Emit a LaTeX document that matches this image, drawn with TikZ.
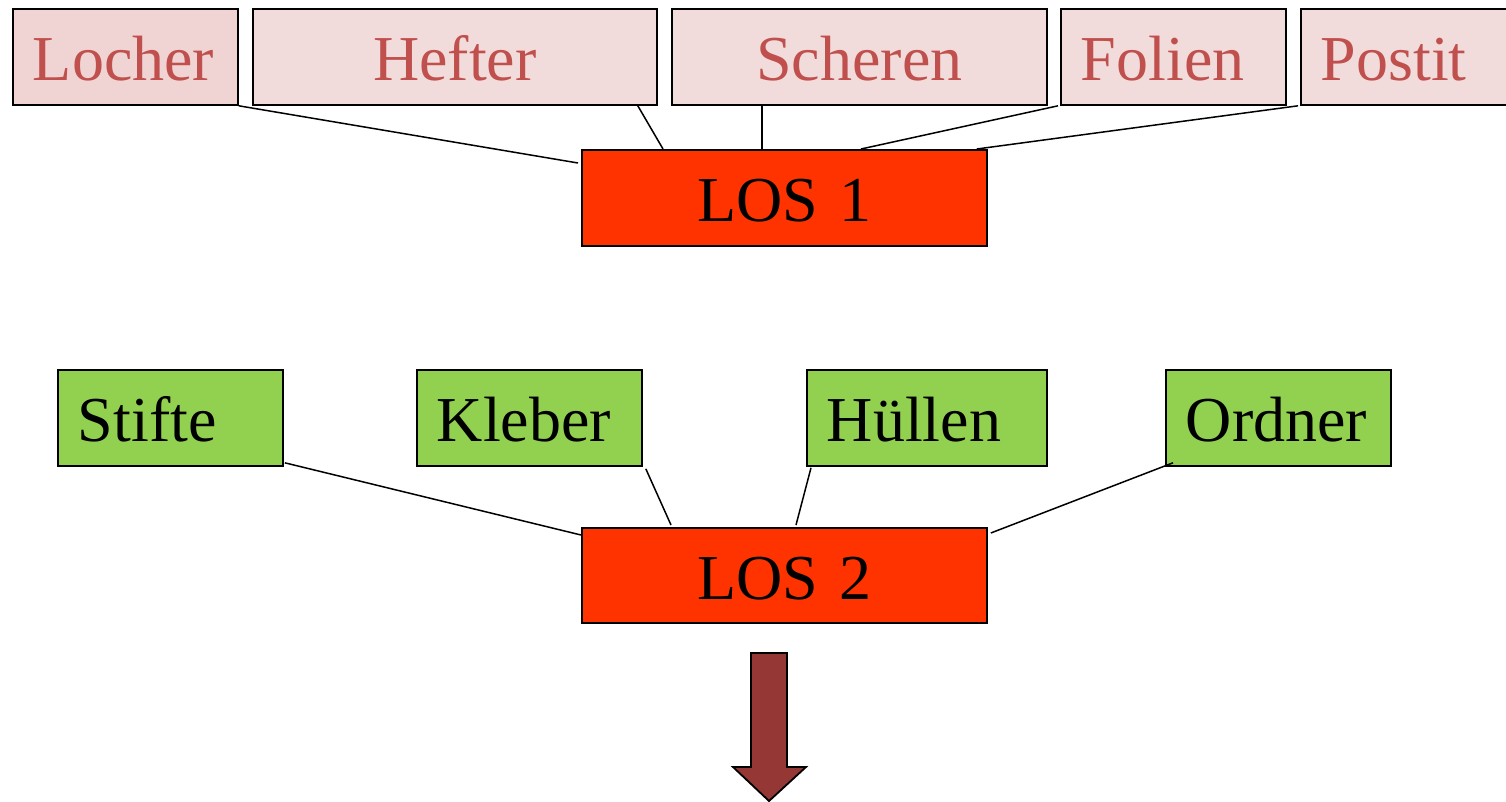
\documentclass[tikz,border=0pt]{standalone}
\usepackage{fontspec}
\setmainfont{Liberation Serif}
\newfontfamily\boxfont{Liberation Serif}
\usetikzlibrary{calc}

\definecolor{itemfill}{HTML}{F2DCDB}
\definecolor{itemfillb}{HTML}{F0D3D3}
\definecolor{itemtext}{HTML}{C0504D}
\definecolor{greenfill}{HTML}{92D050}
\definecolor{losfill}{HTML}{FF3300}
\definecolor{arrowfill}{HTML}{953735}

\tikzset{
  box/.style={draw=black, line width=1.8pt, inner sep=0pt, anchor=north west,
    minimum height=96pt, text height=48pt, text depth=0pt,
    font=\boxfont\fontsize{64}{70}\selectfont},
  leftbox/.style={box, align=left, inner xsep=20pt, text width=#1-40pt},
  midbox/.style={box, align=center, inner xsep=0pt, text width=#1},
  redbox/.style={fill=itemfill, text=itemtext},
  greenbox/.style={fill=greenfill, text=black},
  losbox/.style={midbox=405pt, fill=losfill, text=black},
  link/.style={draw=black, line width=1.5pt},
}

\begin{document}
\begin{tikzpicture}[x=1pt, y=-1pt]
\useasboundingbox (0,0) rectangle (1506,801);

% first lot: items
\node[leftbox=225pt, redbox, fill=itemfillb] (locher) at (12,8) {Locher};
\node[midbox=404pt, redbox] (hefter) at (252,8) {Hefter};
\node[midbox=375pt, redbox] (scheren) at (671,8) {Scheren};
\node[leftbox=225pt, redbox] (folien) at (1060,8) {Folien};
\node[leftbox=225pt, redbox] (postit) at (1300,8) {Postit};

\node[losbox, minimum height=96pt] (los1) at (581,149) {LOS 1};

\draw[link] (locher.south east) -- ($(los1.north west)+(-3,14)$);
\draw[link] ($(hefter.south east)+(-20,0)$) -- ($(los1.north west)+(82,0)$);
\draw[link, line width=2.2pt] ($(scheren.south west)+(91,0)$) -- ($(los1.north west)+(181,0)$);
\draw[link] ($(folien.south west)+(-2,0)$) -- ($(los1.north west)+(280,0)$);
\draw[link] ($(postit.south west)+(-2,0)$) -- ($(los1.north east)+(-11,0)$);

% second lot: items
\node[leftbox=225pt, greenbox] (stifte) at (57,369) {Stifte};
\node[leftbox=225pt, greenbox] (kleber) at (416,369) {Kleber};
\node[leftbox=240pt, greenbox] (huellen) at (806,369) {Hüllen};
\node[leftbox=225pt, greenbox] (ordner) at (1165,369) {Ordner};

\node[losbox, minimum height=95pt] (los2) at (581,527) {LOS 2};

\draw[link] ($(stifte.south east)+(1,-4)$) -- ($(los2.north west)+(0,8)$);
\draw[link] ($(kleber.south east)+(3,2)$) -- ($(los2.north west)+(90,-2)$);
\draw[link] ($(huellen.south west)+(5,1)$) -- ($(los2.north west)+(215,-2)$);
\draw[link] ($(ordner.south west)+(8,-4)$) -- ($(los2.north east)+(3,6)$);

% downward block arrow
\draw[fill=arrowfill, line width=1.8pt, line join=miter]
  (751,653) -- (787,653) -- (787,767) -- (806,767) -- (769,801)
  -- (733,767) -- (751,767) -- cycle;
\end{tikzpicture}
\end{document}
